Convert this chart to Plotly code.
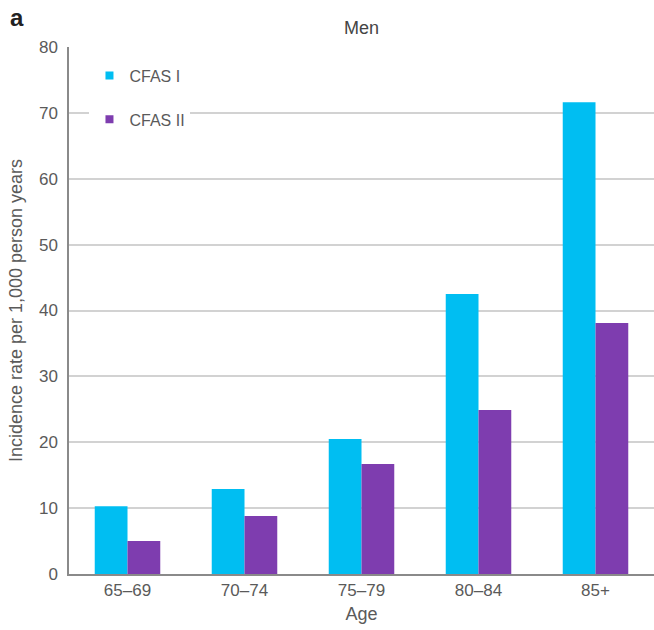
import plotly.graph_objects as go

ages = ["65–69", "70–74", "75–79", "80–84", "85+"]
cfas1 = [10.3, 12.9, 20.5, 42.5, 71.6]
cfas2 = [5.0, 8.8, 16.7, 24.9, 38.1]
yticks = [0, 10, 20, 30, 40, 50, 60, 70, 80]
series_names = ["CFAS I", "CFAS II"]
colors = ["#00BEF2", "#7E3DAF"]

font = "Liberation Sans, Arial, sans-serif"
grey = "#5a5a5a"

fig = go.Figure()
for name, vals, col in zip(series_names, [cfas1, cfas2], colors):
    fig.add_trace(go.Bar(x=ages, y=vals, name=name, showlegend=False,
                         marker=dict(color=col, line=dict(width=0))))
# legend entries with small square markers
for name, col in zip(series_names, colors):
    fig.add_trace(go.Scatter(x=[None], y=[None], mode="markers", name=name,
                             legendgroup=name,
                             marker=dict(symbol="square", size=8, color=col)))

fig.update_layout(
    width=654, height=630,
    margin=dict(l=69, r=0, t=47, b=56, autoexpand=False),
    paper_bgcolor="white", plot_bgcolor="white",
    barmode="group", bargap=0.44, bargroupgap=0,
    font=dict(family=font, size=17, color=grey),
    showlegend=True,
    legend=dict(x=0.035, y=0.978, xanchor="left", yanchor="top",
                bgcolor="white", font=dict(size=16, color=grey),
                tracegroupgap=20, itemwidth=30,
                traceorder="grouped"),
    annotations=[
        dict(text="Men", x=0.5, xref="paper", y=1.0, yref="paper", yanchor="bottom",
             yshift=7, showarrow=False, font=dict(size=18, color="#444444")),
        dict(text="<b>a</b>", x=0, xref="paper", y=1.0, yref="paper", xanchor="left", yanchor="bottom",
             xshift=-61, yshift=14, showarrow=False, font=dict(size=24, color="#222222")),
    ],
)
fig.update_xaxes(
    showline=True, linecolor="#8a8a8a", linewidth=1.5,
    ticks="", tickfont=dict(size=17, color=grey), ticklabelstandoff=0,
    title=dict(text="Age", font=dict(size=18, color=grey), standoff=8),
)
fig.update_yaxes(
    range=[0, 80], tickvals=yticks, showline=True, linecolor="#8a8a8a", linewidth=1.5,
    showgrid=True, gridcolor="#d2d2d2", gridwidth=1.5,
    ticks="", tickfont=dict(size=17, color=grey), ticklabelstandoff=6,
    title=dict(text="Incidence rate per 1,000 person years", font=dict(size=18, color=grey), standoff=12),
    zeroline=False,
)
fig.write_html(
    "out.html",
    config={"displayModeBar": False},
    post_script="document.body.style.margin='0';document.body.style.overflow='hidden';"
                "Plotly.Plots.resize(document.getElementById('{plot_id}'));",
)
